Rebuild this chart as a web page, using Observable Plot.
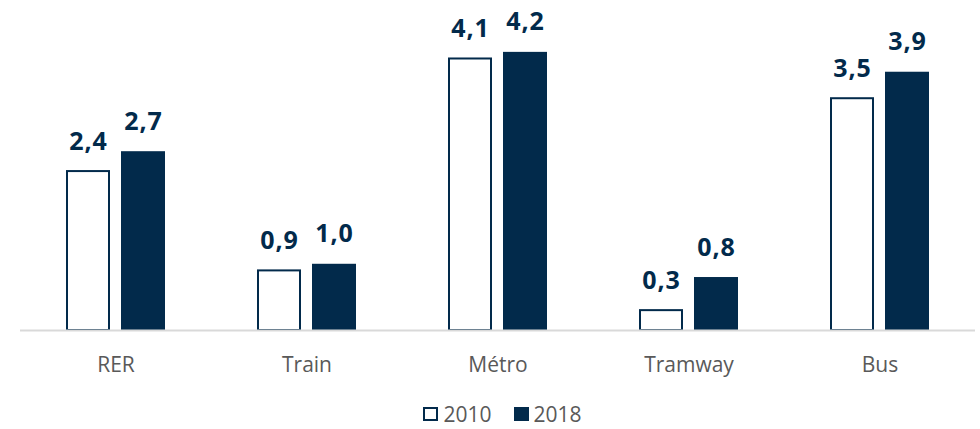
<!DOCTYPE html>
<html><head><meta charset="utf-8">
<script src="https://cdn.jsdelivr.net/npm/d3@7"></script>
<script src="https://cdn.jsdelivr.net/npm/@observablehq/plot@0.6"></script>
<style>
body{margin:0;background:#fff;font-family:"Open Sans",sans-serif;overflow:hidden;}
#chart svg{display:block;}
.vlabel text{letter-spacing:1px;}
#legend{height:29px;display:flex;justify-content:center;align-items:flex-start;padding-left:25px;padding-top:3px;box-sizing:border-box;font-size:21px;color:#595959;}
#legend .sw{width:15px;height:14px;box-sizing:border-box;margin-right:5px;}
#legend .item{display:flex;align-items:center;margin-right:22px;line-height:22px;height:22px;}
#legend .item:last-child{margin-right:0;}
</style></head><body>
<div id="chart"></div>
<div id="legend"></div>
<script>
const categories = ["RER", "Train", "Métro", "Tramway", "Bus"];
const years = ["2010", "2018"];
const values2010 = [2.4, 0.9, 4.1, 0.3, 3.5];
const values2018 = [2.7, 1.0, 4.2, 0.8, 3.9];

const navy = "#022a4b";
const rows2010 = categories.map((c, i) => ({cat: c, year: "2010", v: values2010[i]}));
const rows2018 = categories.map((c, i) => ({cat: c, year: "2018", v: values2018[i]}));
const all = rows2010.concat(rows2018);
const fmt = v => v.toFixed(1).replace(".", ",");

const chart = Plot.plot({
  width: 980, height: 400,
  marginLeft: 19, marginRight: 4, marginTop: 32, marginBottom: 70,
  style: {fontFamily: "Open Sans", background: "#fff"},
  fx: {domain: categories, padding: 0, label: null},
  x: {domain: years, paddingInner: 0.2, paddingOuter: 0.836, axis: null},
  y: {domain: [0, 4.5], axis: null},
  marks: [
    Plot.barY(rows2010, {fx: "cat", x: "year", y: "v", fill: "white", stroke: navy, strokeWidth: 2, insetLeft: 1, insetRight: 1}),
    Plot.barY(rows2018, {fx: "cat", x: "year", y: "v", fill: navy}),
    Plot.ruleY([0], {stroke: "#d9d9d9", strokeWidth: 2}),
    Plot.text(all, {fx: "cat", x: "year", y: "v", text: d => fmt(d.v), lineAnchor: "bottom", dy: -22, fill: navy, fontSize: 25, fontWeight: "bold", className: "vlabel"}),
    Plot.axisFx({anchor: "bottom", tickSize: 0, tickPadding: 27, fontSize: 21, fill: "#595959", label: null})
  ]
});
document.getElementById("chart").appendChild(chart);

const legend = document.getElementById("legend");
years.forEach((y, i) => {
  const item = document.createElement("div");
  item.className = "item";
  const sw = document.createElement("div");
  sw.className = "sw";
  if (i === 0) { sw.style.background = "#fff"; sw.style.border = "2px solid " + navy; }
  else { sw.style.background = navy; }
  const t = document.createElement("span");
  t.textContent = y;
  item.appendChild(sw); item.appendChild(t);
  legend.appendChild(item);
});
</script>
</body></html>
